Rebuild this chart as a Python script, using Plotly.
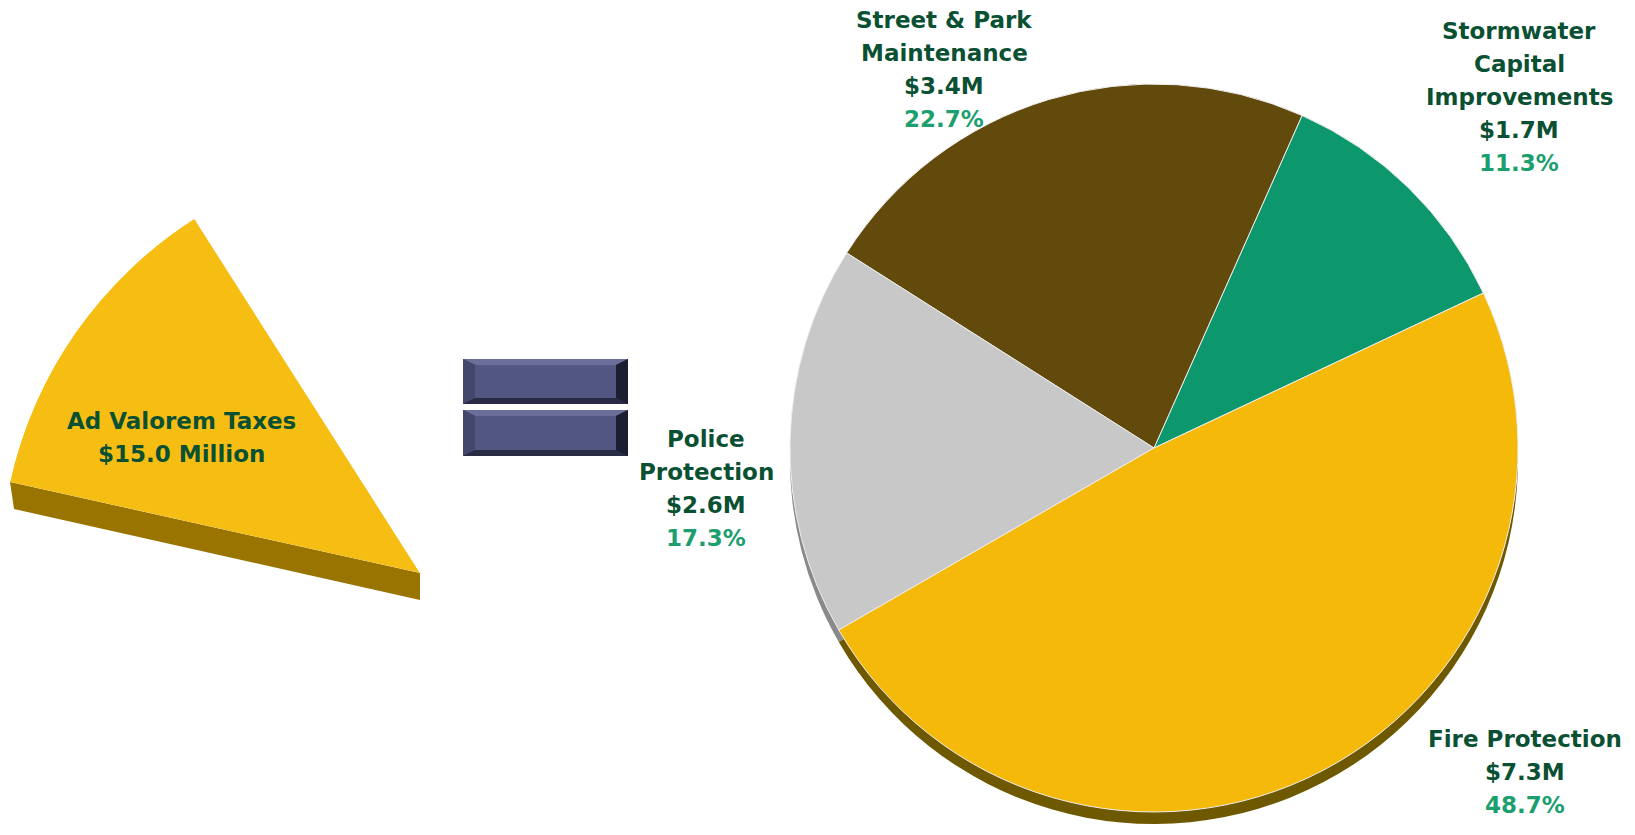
import plotly.graph_objects as go

# ---------------- data ----------------
categories = ["Stormwater Capital Improvements", "Street & Park Maintenance", "Police Protection", "Fire Protection"]
label_lines = [["Stormwater", "Capital", "Improvements"], ["Street & Park", "Maintenance"], ["Police", "Protection"], ["Fire Protection"]]
values_m = [1.7, 3.4, 2.6, 7.3]            # $ millions
percent_labels = ["11.3%", "22.7%", "17.3%", "48.7%"]
total_label = ["Ad Valorem Taxes", "$15.0 Million"]
total_value = [15.0]

# ---------------- styles ----------------
W, H = 1635, 835
face_colors = ["#0D976D", "#614A0B", "#C8C8C8", "#F5B90A"]
side_colors = ["#0A6A4C", "#3A2C06", "#8A8A8A", "#6E5800"]
NAME_C = "#0A5032"
PCT_C = "#1C9F6F"
FONT = "DejaVu Sans"


def px(x):
    return x / W


def py(y):
    return 1 - y / H


fig = go.Figure()

# main pie geometry (pixels)
pcx, pcy, pr = 1154, 448, 364
drop = 12
dom_x = [px(pcx - pr), px(pcx + pr)]
dom_y = [py(pcy + pr), py(pcy - pr)]
dom_y_side = [py(pcy + pr + drop), py(pcy - pr + drop)]

# extrusion (side) of pie
fig.add_trace(go.Pie(labels=categories, values=values_m, sort=False, direction="counterclockwise",
                     rotation=24, textinfo="none", hoverinfo="skip", showlegend=False,
                     marker=dict(colors=side_colors, line=dict(width=0)),
                     domain=dict(x=dom_x, y=dom_y_side)))
# top face
fig.add_trace(go.Pie(labels=categories, values=values_m, sort=False, direction="counterclockwise",
                     rotation=24, textinfo="none", hoverinfo="skip", showlegend=False,
                     marker=dict(colors=face_colors, line=dict(color="#EEEEEE", width=1)),
                     domain=dict(x=dom_x, y=dom_y)))

# ---------------- left wedge (total) ----------------
import math
a0, a1 = 122.5, 167.5
wx0, wx1 = 10, 420          # pixel span of wedge bbox
wy_apex = 573
R = (wx1 - wx0) / (-math.cos(math.radians(a1)))
top_h = R * math.sin(math.radians(a0))
fig.add_trace(go.Barpolar(r=total_value, theta=[(a0 + a1) / 2], width=[a1 - a0],
                          marker=dict(color="#F6BE12", line=dict(width=0)),
                          hoverinfo="skip", showlegend=False, subplot="polar"))

fig.update_layout(polar=dict(
    domain=dict(x=[px(wx0), px(wx1)], y=[py(wy_apex), py(wy_apex - top_h)]),
    sector=[a0, a1], bgcolor="rgba(0,0,0,0)",
    radialaxis=dict(visible=False, range=[0, total_value[0]]),
    angularaxis=dict(visible=False, showgrid=False),
))

shapes = []
# side face of wedge
lx = wx1 + R * math.cos(math.radians(a1))
ly = wy_apex - R * math.sin(math.radians(a1))
th = 27
path = (f"M {px(wx1)},{py(wy_apex)} L {px(lx)},{py(ly)} L {px(lx + 4)},{py(ly + th)} "
        f"L {px(wx1)},{py(wy_apex + th)} Z")
shapes.append(dict(type="path", xref="paper", yref="paper", path=path,
                   fillcolor="#9A7400", line=dict(width=0), layer="below"))


# ---------------- equals sign (bevelled bars) ----------------
def bevel_bar(x0, y0, x1, y1, bx=12, by=6):
    out = []
    out.append(dict(type="rect", xref="paper", yref="paper", x0=px(x0), x1=px(x1), y0=py(y1), y1=py(y0),
                    fillcolor="#2B2D48", line=dict(width=0)))
    ix0, ix1, iy0, iy1 = x0 + bx, x1 - bx, y0 + by, y1 - by
    polys = [
        ([(x0, y0), (x1, y0), (ix1, iy0), (ix0, iy0)], "#6A6E99"),   # top
        ([(x0, y0), (ix0, iy0), (ix0, iy1), (x0, y1)], "#44476C"),   # left
        ([(x1, y0), (x1, y1), (ix1, iy1), (ix1, iy0)], "#1C1D30"),   # right
        ([(x0, y1), (ix0, iy1), (ix1, iy1), (x1, y1)], "#2A2C45"),   # bottom
    ]
    for pts, c in polys:
        p = "M " + " L ".join(f"{px(a)},{py(b)}" for a, b in pts) + " Z"
        out.append(dict(type="path", xref="paper", yref="paper", path=p, fillcolor=c, line=dict(width=0)))
    out.append(dict(type="rect", xref="paper", yref="paper", x0=px(ix0), x1=px(ix1), y0=py(iy1), y1=py(iy0),
                    fillcolor="#525782", line=dict(width=0)))
    return out


shapes += bevel_bar(463, 359, 628, 404)
shapes += bevel_bar(463, 410, 628, 456)

# ---------------- labels ----------------
annotations = []
LS = 33
label_pos = [(1519, 31), (944, 20), (706, 439), (1525, 739)]  # centre x, first line y (px)
for lines, val, pct, (cx, y0) in zip(label_lines, values_m, percent_labels, label_pos):
    rows = [(t, NAME_C) for t in lines] + [(f"${val:.1f}M", NAME_C), (pct, PCT_C)]
    for i, (t, c) in enumerate(rows):
        annotations.append(dict(x=px(cx), y=py(y0 + i * LS), xref="paper", yref="paper", text=t,
                                showarrow=False, xanchor="center", yanchor="middle",
                                font=dict(family=FONT, size=23, color=c, weight="bold")))
for i, t in enumerate(total_label):
    annotations.append(dict(x=px(181), y=py(421 + i * 33), xref="paper", yref="paper", text=t,
                            showarrow=False, xanchor="center", yanchor="middle",
                            font=dict(family=FONT, size=23, color=NAME_C, weight="bold")))

fig.update_layout(width=W, height=H, margin=dict(l=0, r=0, t=0, b=0),
                  paper_bgcolor="white", plot_bgcolor="white",
                  shapes=shapes, annotations=annotations, showlegend=False)

fig.write_html("out.html", config={"displayModeBar": False})
